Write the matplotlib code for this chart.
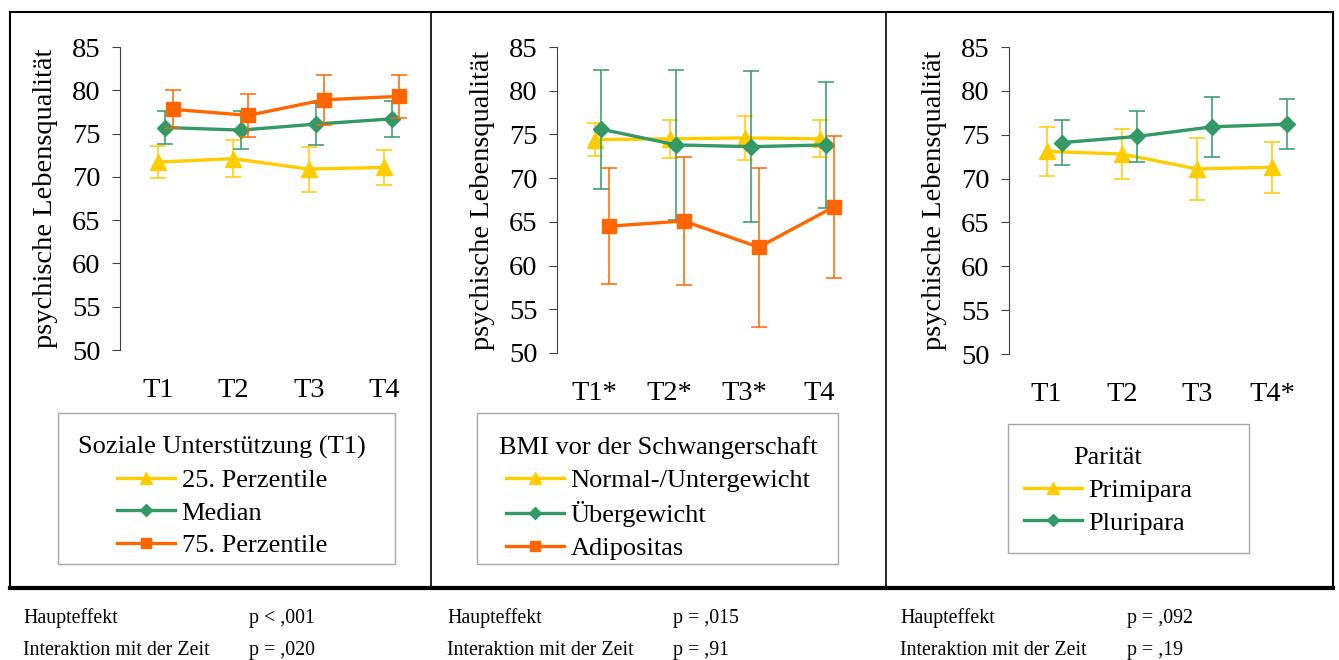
import matplotlib
matplotlib.use("Agg")
import matplotlib.pyplot as plt
from matplotlib.lines import Line2D

plt.rcParams['font.family'] = ['Liberation Serif', 'DejaVu Serif']

W, H = 1339, 660

YELLOW = '#FFCC00'
GREEN = '#339966'
ORANGE = '#FF6600'

# Soziale Unterstützung (T1)
p1_ticks = ['T1', 'T2', 'T3', 'T4']
p1_labels = ['25. Perzentile', 'Median', '75. Perzentile']
p1_means = [[71.7, 72.1, 70.9, 71.1],
            [75.7, 75.4, 76.1, 76.7],
            [77.8, 77.1, 78.9, 79.3]]
p1_err = [[1.85, 2.1, 2.6, 2.0],
          [1.95, 2.2, 2.4, 2.1],
          [2.2, 2.5, 2.9, 2.45]]

# BMI vor der Schwangerschaft
p2_ticks = ['T1*', 'T2*', 'T3*', 'T4']
p2_labels = ['Normal-/Untergewicht', 'Übergewicht', 'Adipositas']
p2_means = [[74.4, 74.5, 74.6, 74.5],
            [75.6, 73.8, 73.6, 73.8],
            [64.5, 65.1, 62.1, 66.7]]
p2_err = [[1.9, 2.2, 2.55, 2.1],
          [6.8, 8.6, 8.6, 7.2],
          [6.65, 7.35, 9.1, 8.15]]

# Parität
p3_ticks = ['T1', 'T2', 'T3', 'T4*']
p3_labels = ['Primipara', 'Pluripara']
p3_means = [[73.1, 72.8, 71.1, 71.3],
            [74.1, 74.8, 75.9, 76.2]]
p3_err = [[2.75, 2.9, 3.55, 2.9],
          [2.55, 2.9, 3.45, 2.85]]

stats = [[('Haupteffekt', 'p < ,001'), ('Interaktion mit der Zeit', 'p = ,020')],
         [('Haupteffekt', 'p = ,015'), ('Interaktion mit der Zeit', 'p = ,91')],
         [('Haupteffekt', 'p = ,092'), ('Interaktion mit der Zeit', 'p = ,19')]]

styles = [(YELLOW, '^', 11.5), (GREEN, 'D', 8), (ORANGE, 's', 9.5)]


def px_rect(x0, y0, x1, y1):
    return [x0 / W, 1 - y1 / H, (x1 - x0) / W, (y1 - y0) / H]


def draw_panel(fig, rect, ticks, labels, means, errs, offsets, title, leg_box, leg_anchor):
    ax = fig.add_axes(px_rect(*rect))
    x = range(len(ticks))
    handles = []
    for i, (m, e) in enumerate(zip(means, errs)):
        color, marker, ms = styles[i]
        xs = [v + offsets[i] for v in x]
        ax.errorbar(xs, m, yerr=e, color=color, lw=2.4, marker=marker, ms=ms,
                    elinewidth=1.1, capsize=6, capthick=1.1, zorder=3 + i)
        handles.append(Line2D([], [], color=color, lw=2.4, marker=marker,
                              ms=ms * 0.75, label=labels[i]))
    ax.set_xlim(-0.5, 3.5)
    ax.set_ylim(50, 85)
    ax.set_yticks(range(50, 86, 5))
    ax.set_xticks(list(x))
    ax.set_xticklabels(ticks)
    for s in ['top', 'right', 'bottom']:
        ax.spines[s].set_visible(False)
    ax.spines['left'].set_color('#404040')
    ax.tick_params(axis='y', length=6, color='#404040', labelsize=20.5, pad=8)
    ax.tick_params(axis='x', length=0, labelsize=20.5, pad=20)
    ax.set_ylabel('psychische Lebensqualität', fontsize=20.5, labelpad=10)
    ax.patch.set_visible(False)

    # legend box drawn separately so its size can be set exactly
    bx0, by0, bx1, by1 = leg_box
    fig.add_artist(plt.Rectangle((bx0 / W, 1 - by1 / H), (bx1 - bx0) / W, (by1 - by0) / H,
                                 transform=fig.transFigure, fill=False,
                                 ec='#A6A6A6', lw=1.0))
    fig.legend(handles=handles, title=title, loc='upper center',
               bbox_to_anchor=(leg_anchor[0] / W, 1 - leg_anchor[1] / H),
               frameon=False, fontsize=19, title_fontsize=19,
               handlelength=2.2, handletextpad=0.25, labelspacing=0.35,
               borderpad=0)
    return ax


fig = plt.figure(figsize=(W / 100, H / 100), dpi=100)

draw_panel(fig, (120, 47, 422, 350), p1_ticks, p1_labels, p1_means, p1_err,
           [0, 0.1, 0.2], 'Soziale Unterstützung (T1)',
           (58, 413, 395, 564), (222, 423))
draw_panel(fig, (557, 47, 857, 353), p2_ticks, p2_labels, p2_means, p2_err,
           [0, 0.09, 0.19], 'BMI vor der Schwangerschaft',
           (477, 413, 838, 564), (658, 423))
draw_panel(fig, (1009, 47, 1310, 354), p3_ticks, p3_labels, p3_means, p3_err,
           [0, 0.2], 'Parität',
           (1008, 424, 1249, 553), (1108, 434))

# outer frame and panel dividers
frame_lines = [((10, 12), (1333, 12), 1.5), ((10, 12), (10, 588), 1.5),
               ((1333, 12), (1333, 588), 1.5), ((10, 588), (1333, 588), 3),
               ((431, 12), (431, 588), 1.2), ((886, 12), (886, 588), 1.2)]
for (xa, ya), (xb, yb), lw in frame_lines:
    fig.add_artist(Line2D([xa / W, xb / W], [1 - ya / H, 1 - yb / H],
                          transform=fig.transFigure, color='black', lw=lw))

# test statistics under each panel
col_x = [(23, 249), (447, 673), (900, 1127)]
row_y = [623, 655]
for (lx, px), rows in zip(col_x, stats):
    for yb, (name, pval) in zip(row_y, rows):
        fig.text(lx / W, 1 - yb / H, name, fontsize=14.3, va='baseline')
        fig.text(px / W, 1 - yb / H, pval, fontsize=14.3, va='baseline')

fig.savefig('out.png', dpi=100)
